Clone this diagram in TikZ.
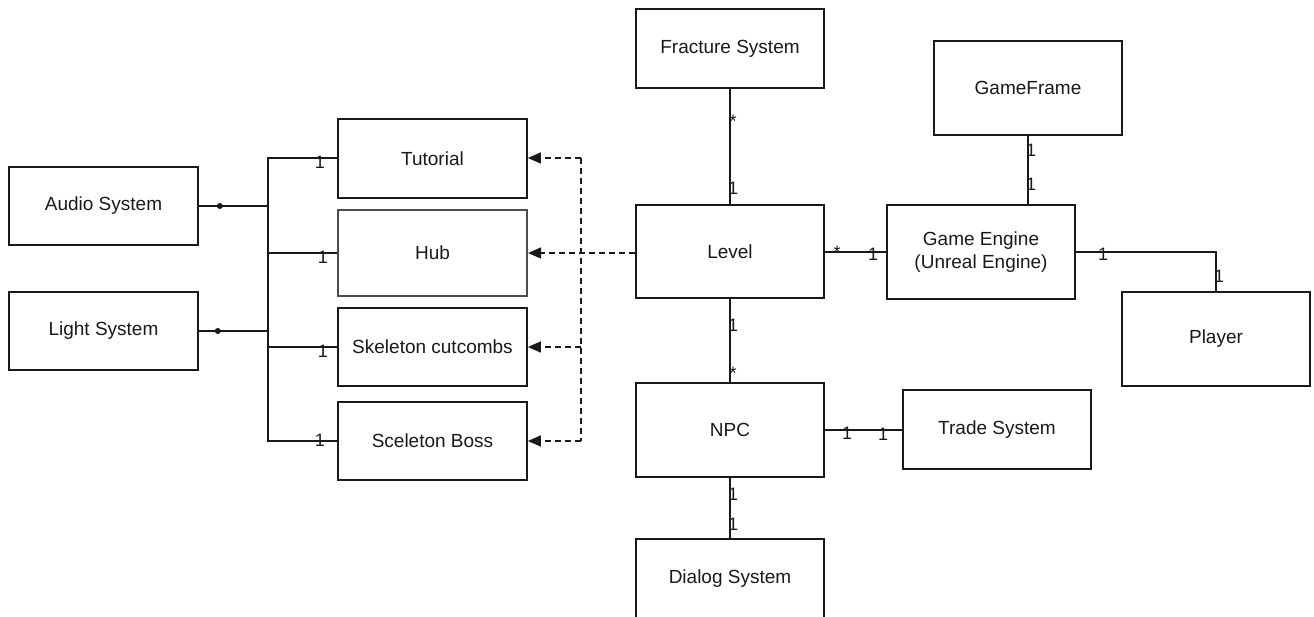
\documentclass[tikz,border=0pt]{standalone}
\usepackage{fontspec}
\setmainfont{Liberation Sans}
\usetikzlibrary{arrows.meta,calc}

\tikzset{
  box/.style={draw=black!90, line width=1.6pt, minimum width=189pt, inner sep=0pt,
    font=\fontsize{19}{23}\selectfont, align=center, text=black!90},
  link/.style={draw=black!90, line width=1.6pt},
  deplink/.style={draw=black!90, line width=1.4pt, dash pattern=on 6pt off 4pt},
  deparrow/.style={deplink, -{Triangle[length=13pt,width=11pt]}},
  mult/.style={anchor=base, inner sep=0pt, font=\fontsize{18}{21}\selectfont, text=black!90},
  joint/.style={fill=black!90}
}

\begin{document}
\begin{tikzpicture}[x=1pt,y=-1pt]
\useasboundingbox (0,0) rectangle (1314,617);

% classes
\node[box, minimum height=78pt] (audio)    at (103.5,206)   {Audio System};
\node[box, minimum height=78pt] (light)    at (103.5,331)   {Light System};
\node[box, minimum height=79pt] (tutorial) at (432.5,158.5) {Tutorial};
\node[box, minimum height=86pt, line width=2pt, draw=black!70] (hub) at (432.5,253) {Hub};
\node[box, minimum height=78pt] (skel)     at (432.5,347)   {Skeleton cutcombs};
\node[box, minimum height=78pt] (boss)     at (432.5,441)   {Sceleton Boss};
\node[box, minimum width=188pt, minimum height=79pt] (fracture) at (730,48.5) {Fracture System};
\node[box, minimum width=188pt, minimum height=93pt] (level)    at (730,251.5) {Level};
\node[box, minimum width=188pt, minimum height=94pt] (engine)   at (981,252)   {Game Engine\\(Unreal Engine)};
\node[box, minimum width=188pt, minimum height=94pt] (frame)    at (1028,88)   {GameFrame};
\node[box, minimum width=188pt, minimum height=94pt] (player)   at (1216,339)  {Player};
\node[box, minimum width=188pt, minimum height=94pt] (npc)      at (730,430)   {NPC};
\node[box, minimum width=188pt, minimum height=79pt] (trade)    at (997,429.5) {Trade System};
\node[box, minimum width=188pt, minimum height=80pt] (dialog)   at (730,579)   {Dialog System};

% shared bus from the two systems to the four levels
\coordinate (busTop) at (268,158);
\coordinate (busBot) at (268,441);
\draw[link] (tutorial.west |- busTop) -- (busTop) -- (busBot) -- (boss.west |- busBot);
\draw[link] (hub.west) -- (hub.west -| busTop);
\draw[link] (skel.west) -- (skel.west -| busTop);
\draw[link] (audio.east) -- (audio.east -| busTop);
\draw[link] (light.east) -- (light.east -| busTop);
\fill[joint] ($(audio.east)+(21,0)$) circle (3pt);
\fill[joint] ($(light.east)+(19,0)$) circle (3pt);

% dependencies of Level on the concrete levels
\coordinate (depTop) at (581,158);
\coordinate (depBot) at (581,441);
\draw[deplink] (depTop) -- (depBot);
\draw[deparrow] (depTop) -- (tutorial.east |- depTop);
\draw[deparrow] (level.west |- hub.east) -- (hub.east);
\draw[deparrow] (skel.east -| depTop) -- (skel.east);
\draw[deparrow] (depBot) -- (boss.east |- depBot);

% associations
\draw[link] (fracture.south) -- (level.north);
\draw[link] (level.east |- engine.west) -- (engine.west);
\draw[link] (frame.south) -- (frame.south |- engine.north);
\draw[link] (engine.east) -| (player.north);
\draw[link] (level.south) -- (npc.north);
\draw[link] (npc.east) -- (npc.east -| trade.west);
\draw[link] (npc.south) -- (dialog.north);

% multiplicities
\node[mult] (mTut)  at (320,169) {1};
\node[mult] (mHub)  at (323,264) {1};
\node[mult] (mSkel) at (323,358) {1};
\node[mult] (mBoss) at (320,446) {1};
\node[mult] (mFrA)  at (733,128) {*};
\node[mult] (mFrB)  at (733,195) {1};
\node[mult] (mLvA)  at (837,259) {*};
\node[mult] (mLvB)  at (873,261) {1};
\node[mult] (mEnA)  at (1103,261) {1};
\node[mult] (mEnB)  at (1219,283) {1};
\node[mult] (mGfA)  at (1031,157) {1};
\node[mult] (mGfB)  at (1031,191) {1};
\node[mult] (mNpA)  at (733,332) {1};
\node[mult] (mNpB)  at (733,380) {*};
\node[mult] (mTrA)  at (847,439) {1};
\node[mult] (mTrB)  at (883,440) {1};
\node[mult] (mDlA)  at (733,500) {1};
\node[mult] (mDlB)  at (733,530) {1};
\end{tikzpicture}
\end{document}
